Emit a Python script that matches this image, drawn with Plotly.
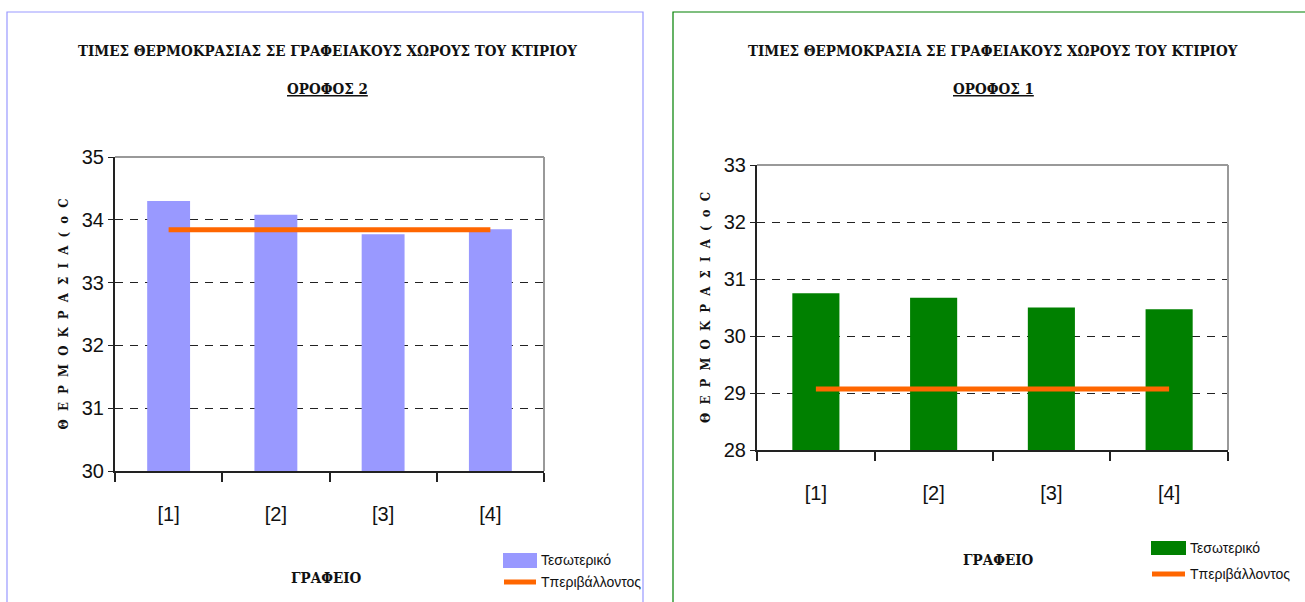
import plotly.graph_objects as go

# ---- data ----
offices = ["[1]", "[2]", "[3]", "[4]"]
office_pos = [1, 2, 3, 4]
inside_floor2 = [34.30, 34.08, 33.77, 33.85]
env_floor2 = [33.84, 33.84, 33.84, 33.84]
inside_floor1 = [30.75, 30.67, 30.50, 30.47]
env_floor1 = [29.07, 29.07, 29.07, 29.07]
bounds = [0.5, 1.5, 2.5, 3.5, 4.5]

title_main_2 = "ΤΙΜΕΣ ΘΕΡΜΟΚΡΑΣΙΑΣ ΣΕ ΓΡΑΦΕΙΑΚΟΥΣ ΧΩΡΟΥΣ ΤΟΥ ΚΤΙΡΙΟΥ"
title_main_1 = "ΤΙΜΕΣ ΘΕΡΜΟΚΡΑΣΙΑ ΣΕ ΓΡΑΦΕΙΑΚΟΥΣ ΧΩΡΟΥΣ ΤΟΥ ΚΤΙΡΙΟΥ"
sub_2 = "ΟΡΟΦΟΣ 2"
sub_1 = "ΟΡΟΦΟΣ 1"
SP = "\u2002\u2009"
ytitle = SP.join(list("ΘΕΡΜΟΚΡΑΣΙΑ")) + SP + SP.join(["(", "o", "C"])
xtitle = "ΓΡΑΦΕΙΟ"
leg_in = "Τεσωτερικό"
leg_env = "Τπεριβάλλοντος"

W, H = 1305, 602
def px(x):
    return x / W
def py(y):
    return 1 - y / H

SERIF = "DejaVu Serif Condensed, Liberation Serif, serif"
SANS = "Liberation Sans Narrow, Arial Narrow, Liberation Sans, sans-serif"
BLUE = "#9999FF"
GREEN = "#008000"
ORANGE = "#FF6600"

fig = go.Figure()

fig.add_trace(go.Bar(x=office_pos, y=inside_floor2, width=0.4, marker_color=BLUE,
                     marker_line_width=0, xaxis="x", yaxis="y", showlegend=False, name=leg_in))
fig.add_trace(go.Scatter(x=office_pos, y=env_floor2, mode="lines", line=dict(color=ORANGE, width=5),
                         xaxis="x", yaxis="y", showlegend=False, name=leg_env))
fig.add_trace(go.Bar(x=office_pos, y=inside_floor1, width=0.4, marker_color=GREEN,
                     marker_line_width=0, xaxis="x2", yaxis="y2", showlegend=False, name=leg_in))
fig.add_trace(go.Scatter(x=office_pos, y=env_floor1, mode="lines", line=dict(color=ORANGE, width=5),
                         xaxis="x2", yaxis="y2", showlegend=False, name=leg_env))

def xax(domain, anchor):
    return dict(domain=domain, anchor=anchor, range=[0.5, 4.5], tickmode="array",
                tickvals=office_pos, ticktext=offices, ticks="", showgrid=False, zeroline=False,
                showline=True, linecolor="#222", linewidth=2, automargin=False,
                tickfont=dict(family=SANS, size=20, color="#111"), ticklabelstandoff=24,
                minor=dict(tickmode="array", tickvals=bounds, ticks="outside", ticklen=9,
                           tickcolor="#222", tickwidth=1.5, showgrid=False))

def yax(domain, anchor, rng):
    return dict(domain=domain, anchor=anchor, range=rng, dtick=1, tick0=rng[0],
                showgrid=True, gridcolor="#222", griddash="8px,7px", gridwidth=1,
                zeroline=False, showline=True, linecolor="#222", linewidth=2, automargin=False,
                ticks="outside", ticklen=5, tickcolor="#222",
                tickfont=dict(family=SANS, size=20, color="#111"),
                title=dict(text=ytitle, font=dict(family=SERIF, size=13, color="#111", weight="bold"),
                           standoff=10))

def xover(overlay, anchor, domain):
    return dict(overlaying=overlay, anchor=anchor, domain=domain, range=[0.5, 4.5], tickmode="array",
                tickvals=bounds, ticks="inside", ticklen=9, tickcolor="#222", tickwidth=1.5,
                showticklabels=False, showgrid=False, showline=False, zeroline=False, side="bottom",
                automargin=False)

dx1 = [px(115), px(544)]
dy1 = [py(471), py(157)]
dx2 = [px(757), px(1228)]
dy2 = [py(450), py(165)]

fig.update_layout(
    width=W, height=H, margin=dict(l=0, r=0, t=0, b=0, autoexpand=False),
    paper_bgcolor="white", plot_bgcolor="white", showlegend=False,
    xaxis=xax(dx1, "y"), yaxis=yax(dy1, "x", [30, 35]),
    xaxis2=xax(dx2, "y2"), yaxis2=yax(dy2, "x2", [28, 33]),
    xaxis3=xover("x", "y", dx1), xaxis4=xover("x2", "y2", dx2),
)

shapes = []
shapes.append(dict(type="rect", xref="paper", yref="paper", x0=px(7), x1=px(643), y0=-0.05, y1=py(12),
                   line=dict(color=BLUE, width=1.2), fillcolor="rgba(0,0,0,0)", layer="below"))
shapes.append(dict(type="rect", xref="paper", yref="paper", x0=px(673), x1=1.05, y0=-0.05, y1=py(12),
                   line=dict(color=GREEN, width=1.2), fillcolor="rgba(0,0,0,0)", layer="below"))
for xr, yr in (("x domain", "y domain"), ("x2 domain", "y2 domain")):
    shapes.append(dict(type="line", xref=xr, yref=yr, x0=0, x1=1, y0=1, y1=1, line=dict(color="#999", width=2)))
    shapes.append(dict(type="line", xref=xr, yref=yr, x0=1, x1=1, y0=0, y1=1, line=dict(color="#999", width=2)))
shapes.append(dict(type="rect", xref="paper", yref="paper", x0=px(503), x1=px(537), y0=py(568), y1=py(553),
                   fillcolor=BLUE, line=dict(width=0)))
shapes.append(dict(type="line", xref="paper", yref="paper", x0=px(504), x1=px(536), y0=py(582), y1=py(582),
                   line=dict(color=ORANGE, width=5)))
shapes.append(dict(type="rect", xref="paper", yref="paper", x0=px(1151), x1=px(1186), y0=py(555), y1=py(541),
                   fillcolor=GREEN, line=dict(width=0)))
shapes.append(dict(type="line", xref="paper", yref="paper", x0=px(1152), x1=px(1185), y0=py(574), y1=py(574),
                   line=dict(color=ORANGE, width=5)))
fig.update_layout(shapes=shapes)

ann = []
def t(x, y, text, font, xanchor="center"):
    ann.append(dict(x=px(x), y=py(y), xref="paper", yref="paper", text=text, showarrow=False,
                    font=font, xanchor=xanchor, yanchor="middle"))

tfont = dict(family=SERIF, size=15, color="#111", weight="bold")
t(328, 51, title_main_2, tfont)
t(328, 89, "<u>" + sub_2 + "</u>", tfont)
t(993, 51, title_main_1, tfont)
t(993, 89, "<u>" + sub_1 + "</u>", tfont)
xfont = dict(family=SERIF, size=15, color="#111", weight="bold")
t(326, 578, xtitle, xfont)
t(998, 560, xtitle, xfont)
lfont = dict(family=SANS, size=14, color="#111")
t(539, 560, leg_in, lfont, "left")
t(539, 582, leg_env, lfont, "left")
t(1188, 548, leg_in, lfont, "left")
t(1188, 574, leg_env, lfont, "left")
fig.update_layout(annotations=ann)

fig.write_html("out.html", config={"displayModeBar": False},
               post_script="document.body.style.margin='0';document.body.style.overflow='hidden';")
